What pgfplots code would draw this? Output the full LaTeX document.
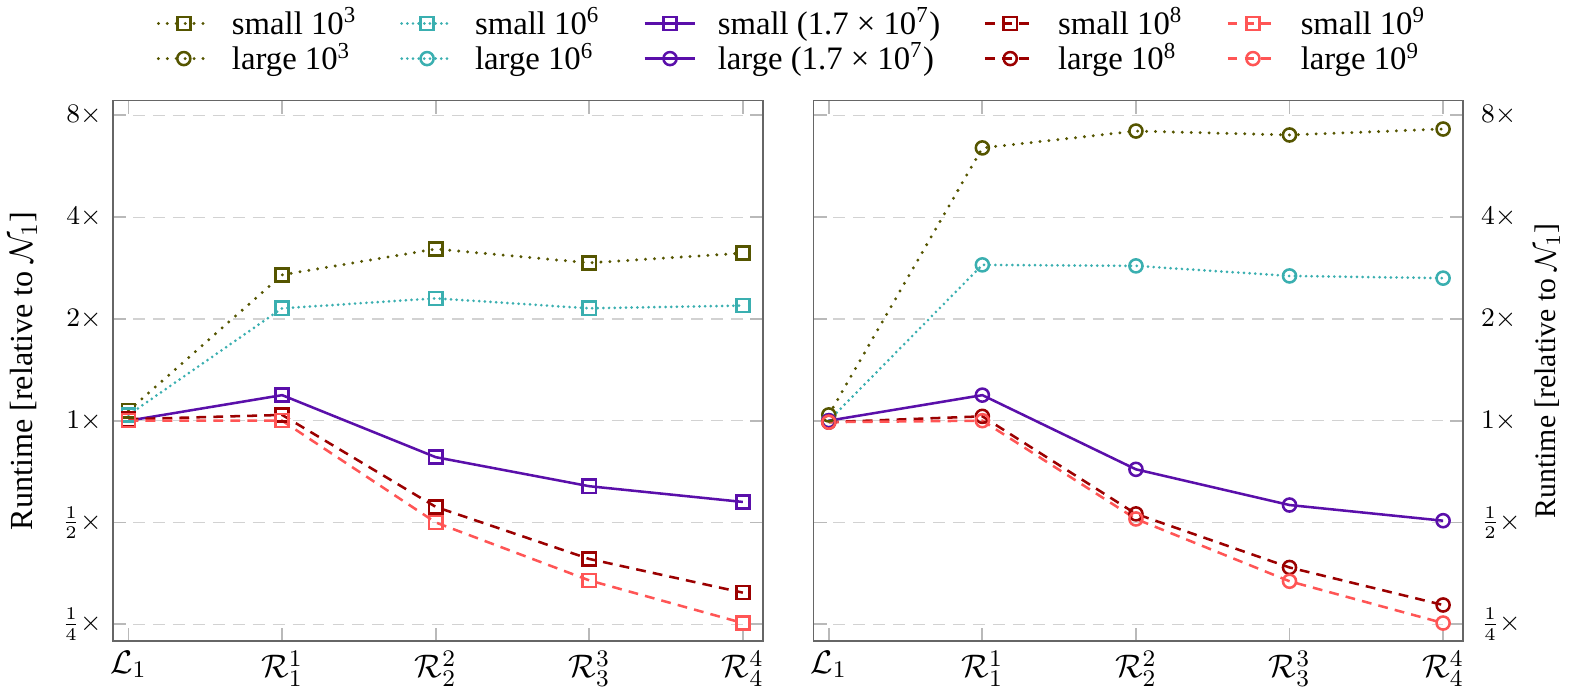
\documentclass[border=0pt]{standalone}
\usepackage{fontspec}
\setmainfont{Liberation Serif}
\usepackage{pgfplots}
\pgfplotsset{compat=1.18}
\definecolor{cOlive}{RGB}{85,85,0}
\definecolor{cTeal}{RGB}{58,175,176}
\definecolor{cPurple}{RGB}{90,15,170}
\definecolor{cDark}{RGB}{155,0,0}
\definecolor{cLight}{RGB}{255,85,85}
\tikzset{
  sOlive/.style={color=cOlive, line cap=round, dash pattern=on 0pt off 3pt, line width=1.1pt},
  sTeal/.style={color=cTeal, line cap=round, dash pattern=on 0pt off 1.9pt, line width=1pt},
  sPurple/.style={color=cPurple, solid, line width=0.85pt},
  sDark/.style={color=cDark, dash pattern=on 3.3pt off 2.4pt, line width=0.85pt},
  sLight/.style={color=cLight, dash pattern=on 3.3pt off 2.4pt, line width=0.85pt},
  mk/.style={mark size=2.2pt, mark options={solid, line width=0.85pt}},
}
\begin{document}
\begin{tikzpicture}
\begin{axis}[
    scale only axis, width=218.3pt, height=181.7pt,
    ymode=log, log basis y=2,
    xmin=-0.1, xmax=4.13,
    ymin=0.2226, ymax=8.85,
    xtick={0,1,2,3,4},
    xticklabels={$\mathcal{L}_1$,$\mathcal{R}_1^1$,$\mathcal{R}_2^2$,$\mathcal{R}_3^3$,$\mathcal{R}_4^4$},
    ytick={0.25,0.5,1,2,4,8},
    yticklabels={$\frac{1}{4}\times$,$\frac{1}{2}\times$,$1\times$,$2\times$,$4\times$,$8\times$},
    ymajorgrids, grid style={gray!35, dash pattern=on 4pt off 2.7pt},
    major tick length=4.4pt,
    tick style={gray!55, semithick},
    axis line style={black!60, semithick},
    yticklabel style={font=\fontsize{9}{10}\selectfont, xshift=-0.4pt},
    xticklabel style={font=\fontsize{11}{13}\selectfont, inner sep=1pt, yshift=-2pt},
    ylabel style={font=\fontsize{10.8}{13}\selectfont},
    ylabel shift=1.5pt,
    ylabel={Runtime [relative to $\mathcal{N}_1$]},
  legend columns=5,
  legend style={draw=none, fill=none, at={(1.045,1)}, anchor=south, yshift=6pt,
    font=\fontsize{11}{12}\selectfont, column sep=6.5pt, row sep=0pt,
    nodes={inner sep=0.6pt},
    /tikz/every even column/.append style={column sep=14pt}},
  legend cell align=left,
]
\addplot[sOlive, mk, mark=square] coordinates {(0,1.07) (1,2.70) (2,3.22) (3,2.93) (4,3.13)};
\addlegendentry{small 10\textsuperscript{3}}
\addplot[sTeal, mk, mark=square] coordinates {(0,1.04) (1,2.15) (2,2.30) (3,2.15) (4,2.19)};
\addlegendentry{small 10\textsuperscript{6}}
\addplot[sPurple, mk, mark=square] coordinates {(0,1.0) (1,1.19) (2,0.78) (3,0.64) (4,0.575)};
\addlegendentry{small (1.7 × 10\textsuperscript{7})}
\addplot[sDark, mk, mark=square] coordinates {(0,1.01) (1,1.04) (2,0.556) (3,0.39) (4,0.31)};
\addlegendentry{small 10\textsuperscript{8}}
\addplot[sLight, mk, mark=square] coordinates {(0,1.0) (1,1.0) (2,0.5) (3,0.337) (4,0.252)};
\addlegendentry{small 10\textsuperscript{9}}
\addlegendimage{sOlive, mk, mark=o}
\addlegendentry{large 10\textsuperscript{3}}
\addlegendimage{sTeal, mk, mark=o}
\addlegendentry{large 10\textsuperscript{6}}
\addlegendimage{sPurple, mk, mark=o}
\addlegendentry{large (1.7 × 10\textsuperscript{7})}
\addlegendimage{sDark, mk, mark=o}
\addlegendentry{large 10\textsuperscript{8}}
\addlegendimage{sLight, mk, mark=o}
\addlegendentry{large 10\textsuperscript{9}}
\end{axis}
\begin{axis}[xshift=235.3pt,
    scale only axis, width=218.3pt, height=181.7pt,
    ymode=log, log basis y=2,
    xmin=-0.1, xmax=4.13,
    ymin=0.2226, ymax=8.85,
    xtick={0,1,2,3,4},
    xticklabels={$\mathcal{L}_1$,$\mathcal{R}_1^1$,$\mathcal{R}_2^2$,$\mathcal{R}_3^3$,$\mathcal{R}_4^4$},
    ytick={0.25,0.5,1,2,4,8},
    yticklabels={$\frac{1}{4}\times$,$\frac{1}{2}\times$,$1\times$,$2\times$,$4\times$,$8\times$},
    ymajorgrids, grid style={gray!35, dash pattern=on 4pt off 2.7pt},
    major tick length=4.4pt,
    tick style={gray!55, semithick},
    axis line style={black!60, semithick},
    yticklabel style={font=\fontsize{9}{10}\selectfont, xshift=2.5pt},
    xticklabel style={font=\fontsize{11}{13}\selectfont, inner sep=1pt, yshift=-2pt},
    ylabel style={font=\fontsize{10.8}{13}\selectfont, rotate=180},
    ylabel shift=-2pt,
    ylabel={Runtime [relative to $\mathcal{N}_1$]},
    yticklabel pos=right, ylabel near ticks,
]
\addplot[sOlive, mk, mark=o] coordinates {(0,1.04) (1,6.41) (2,7.19) (3,7.0) (4,7.29)};
\addplot[sTeal, mk, mark=o] coordinates {(0,1.0) (1,2.89) (2,2.87) (3,2.68) (4,2.64)};
\addplot[sPurple, mk, mark=o] coordinates {(0,1.0) (1,1.19) (2,0.718) (3,0.563) (4,0.506)};
\addplot[sDark, mk, mark=o] coordinates {(0,0.99) (1,1.03) (2,0.53) (3,0.368) (4,0.285)};
\addplot[sLight, mk, mark=o] coordinates {(0,0.99) (1,1.0) (2,0.512) (3,0.335) (4,0.252)};
\end{axis}
\end{tikzpicture}
\end{document}
